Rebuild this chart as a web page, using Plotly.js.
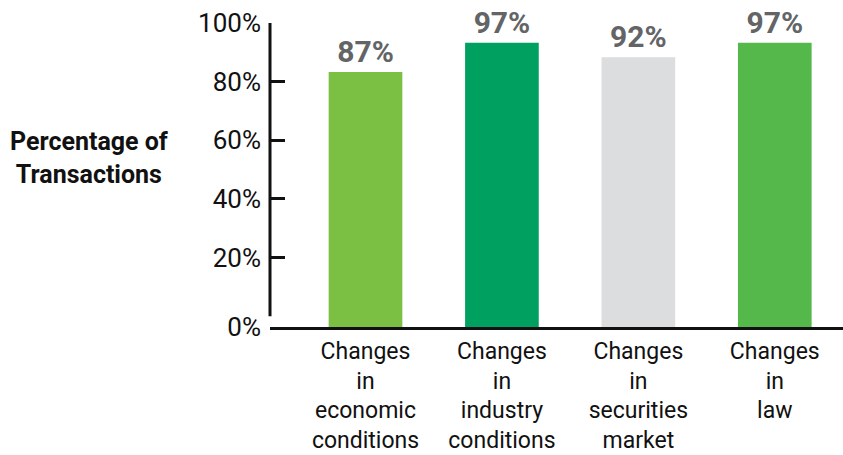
<!DOCTYPE html>
<html>
<head>
<meta charset="utf-8">
<script src="https://cdn.plot.ly/plotly-3.0.1.min.js"></script>
<style>html,body{margin:0;padding:0;background:#fff;}#chart{width:843px;height:455px;}</style>
</head>
<body>
<div id="chart"></div>
<script>
const categories = ["Changes<br>in<br>economic<br>conditions", "Changes<br>in<br>industry<br>conditions", "Changes<br>in<br>securities<br>market", "Changes<br>in<br>law"];
const values = [87, 97, 92, 97];
const valueLabels = ["87%", "97%", "92%", "97%"];
const barColors = ["#7BC043", "#00A160", "#DCDDDF", "#55B84A"];
const yTickVals = [-3.7, 20, 40, 60, 80, 100];
const yTickText = ["0%", "20%", "40%", "60%", "80%", "100%"];
const axisMin = -3.7;

const trace = {
  type: "bar",
  x: [0, 1, 2, 3],
  y: values,
  base: values.map(() => axisMin),
  width: 0.54,
  marker: {color: barColors},
  text: valueLabels,
  textposition: "outside",
  textfont: {family: "Roboto", size: 30, color: "#636466", weight: "bold"},
  cliponaxis: false,
  hoverinfo: "none"
};

const layout = {
  width: 843, height: 455,
  margin: {l: 270, r: 0, t: 23, b: 128, pad: 0},
  paper_bgcolor: "#fff", plot_bgcolor: "#fff",
  showlegend: false,
  font: {family: "Roboto", color: "#111"},
  xaxis: {
    range: [-0.7, 3.5],
    tickvals: [0, 1, 2, 3],
    ticktext: categories,
    ticks: "",
    showgrid: false, zeroline: false,
    showline: true, linecolor: "#111", linewidth: 3,
    tickfont: {family: "Roboto", size: 23, color: "#111"},
    ticklabelstandoff: 1,
    fixedrange: true
  },
  yaxis: {
    range: [axisMin, 100],
    tickvals: yTickVals,
    ticktext: yTickText,
    ticks: "inside", ticklen: 15, tickwidth: 3, tickcolor: "#111",
    showgrid: false, zeroline: false, showline: false,
    tickfont: {family: "Roboto", size: 26, color: "#111"},
    ticklabelstandoff: 8,
    fixedrange: true
  },
  shapes: [{
    type: "line", xref: "paper", yref: "y",
    x0: 0, x1: 0, y0: 0, y1: 100,
    line: {color: "#111", width: 3}
  }],
  annotations: [{
    xref: "paper", yref: "paper",
    x: -0.316, y: 0.557,
    xanchor: "center", yanchor: "middle",
    text: "<b>Percentage of<br>Transactions</b>",
    showarrow: false,
    align: "center",
    font: {family: "Roboto", size: 25, color: "#111"}
  }]
};

Plotly.newPlot("chart", [trace], layout, {displayModeBar: false, staticPlot: true});
</script>
</body>
</html>
